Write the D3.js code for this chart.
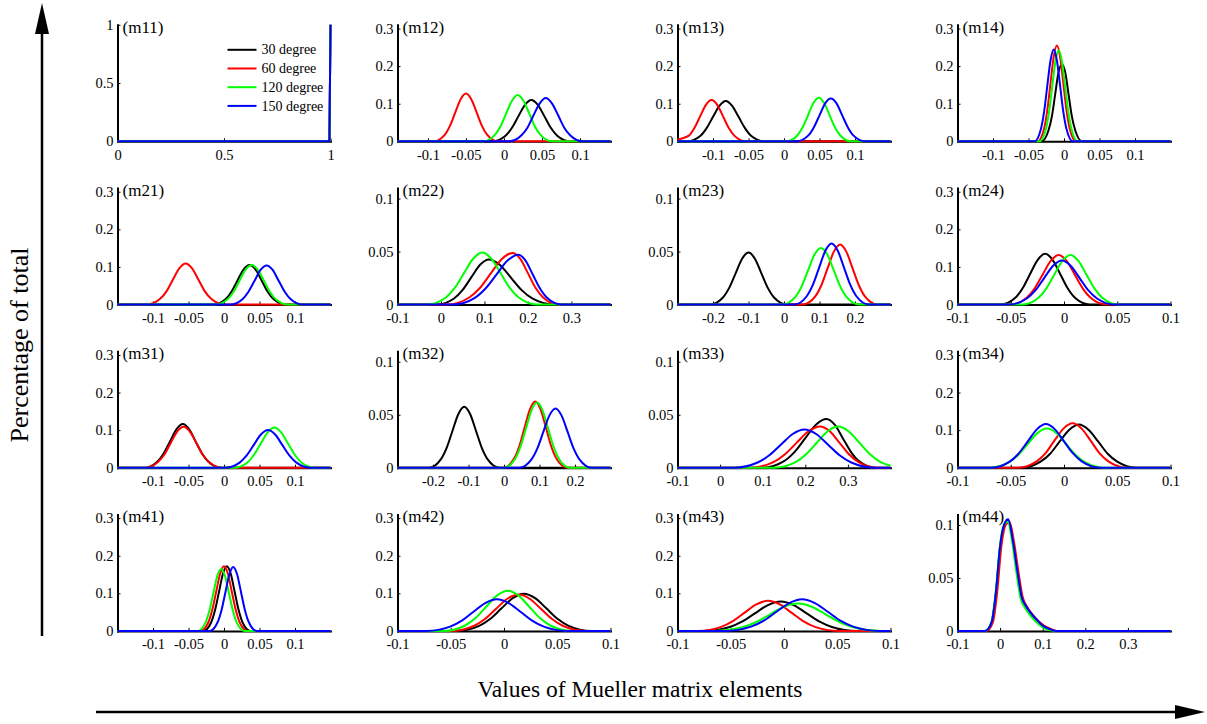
<!DOCTYPE html>
<html>
<head>
<meta charset="utf-8">
<script src="https://cdn.jsdelivr.net/npm/d3@7"></script>
<style>
  body { margin: 0; background: #fff; }
  svg { display: block; }
  text { font-family: "Liberation Serif", "Times New Roman", serif; fill: #000; }
</style>
</head>
<body>
<svg id="chart" width="1207" height="724"></svg>
<script>
// ---- series (scattering angles) ----
const seriesNames = ["30 degree", "60 degree", "120 degree", "150 degree"];
const seriesColors = ["#000000", "#ff0000", "#00ff00", "#0000ff"];

// ---- panels, row by row ----
const panelNames = ["m11", "m12", "m13", "m14",
                    "m21", "m22", "m23", "m24",
                    "m31", "m32", "m33", "m34",
                    "m41", "m42", "m43", "m44"];

const xDomains = [
  [0, 1], [-0.14, 0.14], [-0.15, 0.15], [-0.15, 0.15],
  [-0.15, 0.15], [-0.1, 0.39], [-0.3, 0.3], [-0.1, 0.1],
  [-0.15, 0.15], [-0.3, 0.3], [-0.1, 0.4], [-0.1, 0.1],
  [-0.15, 0.15], [-0.1, 0.1], [-0.1, 0.1], [-0.1, 0.4]
];
const yDomains = [
  [0, 1], [0, 0.31], [0, 0.31], [0, 0.31],
  [0, 0.31], [0, 0.11], [0, 0.11], [0, 0.31],
  [0, 0.31], [0, 0.11], [0, 0.11], [0, 0.31],
  [0, 0.31], [0, 0.31], [0, 0.31], [0, 0.11]
];

const ticksSmall = [-0.1, -0.05, 0, 0.05, 0.1];
const ticksWide = [-0.1, 0, 0.1, 0.2, 0.3];
const ticksSym = [-0.2, -0.1, 0, 0.1, 0.2];
const ticksTenth = [-0.1, -0.05, 0, 0.05, 0.1];
const xTicks = [
  [0, 0.5, 1], ticksSmall, ticksSmall, ticksSmall,
  ticksSmall, ticksWide, ticksSym, ticksTenth,
  ticksSmall, ticksSym, ticksWide, ticksTenth,
  ticksSmall, ticksTenth, ticksTenth, ticksWide
];
const yTicksUnit = [0, 0.5, 1];
const yTicksPct = [0, 0.1, 0.2, 0.3];
const yTicksFine = [0, 0.05, 0.1];
const yTicks = [
  yTicksUnit, yTicksPct, yTicksPct, yTicksPct,
  yTicksPct, yTicksFine, yTicksFine, yTicksPct,
  yTicksPct, yTicksFine, yTicksFine, yTicksPct,
  yTicksPct, yTicksPct, yTicksPct, yTicksFine
];

// ---- distributions: [value, fraction] per series (30, 60, 120, 150 degree) ----
const m11Curves = [
  [[0, 0], [0.995, 0], [1, 1]],
  [[0, 0], [0.995, 0], [1, 1]],
  [[0, 0], [0.995, 0], [1, 1]],
  [[0, 0], [0.995, 0], [1, 1]]
];
const m12Curves = [
  [[-.015,0],[.002,.015],[.0105,.036],[.019,.067],[.0275,.097],[.036,.110],[.0445,.097],[.053,.067],[.0615,.036],[.070,.015],[.087,0]],
  [[-.092,0],[-.078,.017],[-.071,.041],[-.064,.077],[-.057,.112],[-.050,.127],[-.043,.112],[-.036,.077],[-.029,.041],[-.022,.017],[-.008,0]],
  [[-.027,0],[-.012,.017],[-.0045,.040],[.003,.075],[.0105,.108],[.018,.123],[.0255,.108],[.033,.075],[.0405,.040],[.048,.017],[.063,0]],
  [[.007,0],[.023,.016],[.031,.037],[.039,.070],[.047,.101],[.055,.115],[.063,.101],[.071,.070],[.079,.037],[.087,.016],[.103,0]]
];
const m13Curves = [
  [[-.136,0],[-.118,.014],[-.109,.035],[-.100,.065],[-.091,.094],[-.082,.107],[-.073,.094],[-.064,.065],[-.055,.035],[-.046,.014],[-.028,0]],
  [[-.150,.005],[-.134,.015],[-.126,.036],[-.118,.067],[-.110,.097],[-.102,.110],[-.094,.097],[-.086,.067],[-.078,.036],[-.070,.015],[-.054,0]],
  [[.004,0],[.019,.016],[.0265,.038],[.034,.070],[.0415,.102],[.049,.116],[.0565,.102],[.064,.070],[.0715,.038],[.079,.016],[.094,0]],
  [[.018,0],[.034,.015],[.042,.037],[.050,.069],[.058,.101],[.066,.114],[.074,.101],[.082,.069],[.090,.037],[.098,.015],[.114,0]]
];
const m14Curves = [
  [[-.0315,0],[-.022,.028],[-.017,.067],[-.0125,.124],[-.008,.181],[-.003,.205],[.002,.181],[.0065,.124],[.011,.067],[.016,.028],[.0255,0]],
  [[-.037,0],[-.028,.034],[-.0235,.083],[-.019,.155],[-.0145,.225],[-.010,.255],[-.0055,.225],[-.001,.155],[.0035,.083],[.008,.034],[.017,0]],
  [[-.0345,0],[-.0255,.033],[-.021,.079],[-.0165,.147],[-.012,.213],[-.0075,.242],[-.003,.213],[.0015,.147],[.006,.079],[.0105,.033],[.0195,0]],
  [[-.0415,0],[-.0325,.033],[-.028,.079],[-.0235,.148],[-.019,.215],[-.0145,.244],[-.010,.215],[-.0055,.148],[-.001,.079],[.0035,.033],[.0125,0]]
];
const m21Curves = [
  [[-.015,0],[.002,.014],[.0105,.034],[.019,.064],[.0275,.093],[.036,.105],[.0445,.093],[.053,.064],[.0615,.034],[.070,.014],[.087,0]],
  [[-.108,0],[-.090,.015],[-.081,.035],[-.072,.066],[-.063,.096],[-.054,.109],[-.045,.096],[-.036,.066],[-.027,.035],[-.018,.015],[0,0]],
  [[-.012,0],[.005,.014],[.0135,.034],[.022,.064],[.0305,.093],[.039,.105],[.0475,.093],[.056,.064],[.0645,.034],[.073,.014],[.090,0]],
  [[.009,0],[.026,.014],[.0345,.034],[.043,.063],[.0515,.092],[.060,.104],[.0685,.092],[.077,.063],[.0855,.034],[.094,.014],[.111,0]]
];
const m22Curves = [
  [[-.01,0],[.03,.0057],[.05,.0138],[.07,.0258],[.09,.0375],[.11,.0425],[.135,.0375],[.16,.0258],[.185,.0138],[.21,.0057],[.26,0]],
  [[.015,0],[.065,.0066],[.09,.0158],[.115,.0296],[.14,.043],[.165,.0487],[.1825,.043],[.20,.0296],[.2175,.0158],[.235,.0066],[.27,0]],
  [[-.031,0],[.011,.0066],[.032,.0159],[.053,.0297],[.074,.0432],[.095,.049],[.116,.0432],[.137,.0297],[.158,.0159],[.179,.0066],[.221,0]],
  [[.028,0],[.078,.0063],[.103,.0153],[.128,.0285],[.153,.0415],[.178,.047],[.1945,.0415],[.211,.0285],[.2275,.0153],[.244,.0063],[.277,0]]
];
const m23Curves = [
  [[-.208,0],[-.172,.0066],[-.154,.0159],[-.136,.0297],[-.118,.0432],[-.100,.049],[-.082,.0432],[-.064,.0297],[-.046,.0159],[-.028,.0066],[.008,0]],
  [[.053,0],[.088,.0076],[.1055,.0184],[.123,.0344],[.1405,.0499],[.158,.0566],[.1755,.0499],[.193,.0344],[.2105,.0184],[.228,.0076],[.263,0]],
  [[-.004,0],[.032,.0072],[.05,.0174],[.068,.0324],[.086,.0471],[.104,.0534],[.122,.0471],[.14,.0324],[.158,.0174],[.176,.0072],[.212,0]],
  [[.029,0],[.064,.0078],[.0815,.0187],[.099,.0349],[.1165,.0507],[.134,.0575],[.1515,.0507],[.169,.0349],[.1865,.0187],[.204,.0078],[.239,0]]
];
const m24Curves = [
  [[-.0597,0],[-.0457,.018],[-.0387,.044],[-.0317,.082],[-.0247,.119],[-.0177,.135],[-.0107,.119],[-.0037,.082],[.0033,.044],[.0103,.018],[.0243,0]],
  [[-.05,0],[-.035,.018],[-.0275,.043],[-.02,.080],[-.0125,.116],[-.005,.132],[.0025,.116],[.01,.080],[.0175,.043],[.025,.018],[.04,0]],
  [[-.039,0],[-.024,.018],[-.0165,.043],[-.009,.080],[-.0015,.116],[.006,.132],[.0135,.116],[.021,.080],[.0285,.043],[.036,.018],[.051,0]],
  [[-.0515,0],[-.035,.016],[-.0267,.038],[-.0185,.071],[-.0102,.103],[-.002,.117],[.0062,.103],[.0145,.071],[.0227,.038],[.031,.016],[.0475,0]]
];
const m31Curves = [
  [[-.112,0],[-.094,.016],[-.085,.038],[-.076,.070],[-.067,.102],[-.058,.116],[-.049,.102],[-.040,.070],[-.031,.038],[-.022,.016],[-.004,0]],
  [[-.111,0],[-.093,.015],[-.084,.035],[-.075,.066],[-.066,.096],[-.057,.109],[-.048,.096],[-.039,.066],[-.030,.035],[-.021,.015],[-.003,0]],
  [[.014,0],[.033,.014],[.0425,.035],[.052,.065],[.0615,.094],[.071,.107],[.0805,.094],[.090,.065],[.0995,.035],[.109,.014],[.128,0]],
  [[.002,0],[.022,.0135],[.032,.0325],[.042,.0607],[.052,.0882],[.062,.100],[.072,.0882],[.082,.0607],[.092,.0325],[.102,.0135],[.122,0]]
];
const m32Curves = [
  [[-.211,0],[-.178,.0078],[-.1615,.0187],[-.145,.0349],[-.1285,.0507],[-.112,.0575],[-.0955,.0507],[-.079,.0349],[-.0625,.0187],[-.046,.0078],[-.013,0]],
  [[-.002,0],[.028,.0084],[.043,.0203],[.058,.0379],[.073,.0551],[.088,.0625],[.103,.0551],[.118,.0379],[.133,.0203],[.148,.0084],[.178,0]],
  [[0,0],[.031,.0083],[.0465,.020],[.062,.0373],[.0775,.0542],[.093,.0615],[.1085,.0542],[.124,.0373],[.1395,.020],[.155,.0083],[.186,0]],
  [[.043,0],[.077,.0076],[.094,.0182],[.111,.034],[.128,.0494],[.145,.056],[.162,.0494],[.179,.034],[.196,.0182],[.213,.0076],[.247,0]]
];
const m33Curves = [
  [[.10,0],[.15,.0062],[.175,.015],[.20,.0279],[.225,.0406],[.25,.046],[.269,.0406],[.288,.0279],[.307,.015],[.326,.0062],[.364,0]],
  [[.07,0],[.125,.0053],[.1525,.0127],[.18,.0237],[.2075,.0344],[.235,.039],[.2575,.0344],[.28,.0237],[.3025,.0127],[.325,.0053],[.37,0]],
  [[.127,0],[.177,.0052],[.202,.0126],[.227,.0236],[.252,.0342],[.277,.0388],[.302,.0342],[.327,.0236],[.352,.0126],[.377,.0052],[.40,.0018]],
  [[.033,0],[.088,.0049],[.1155,.0117],[.143,.0219],[.1705,.0318],[.198,.036],[.2255,.0318],[.253,.0219],[.2805,.0117],[.308,.0049],[.363,0]]
];
const m34Curves = [
  [[-.04,0],[-.022,.016],[-.013,.037],[-.004,.070],[.005,.101],[.014,.115],[.023,.101],[.032,.070],[.041,.037],[.05,.016],[.068,0]],
  [[-.043,0],[-.026,.016],[-.0175,.038],[-.009,.072],[-.0005,.104],[.008,.118],[.0165,.104],[.025,.072],[.0335,.038],[.042,.016],[.059,0]],
  [[-.07,0],[-.052,.014],[-.043,.034],[-.034,.063],[-.025,.092],[-.016,.104],[-.007,.092],[.002,.063],[.011,.034],[.02,.014],[.038,0]],
  [[-.068,0],[-.051,.016],[-.0425,.038],[-.034,.070],[-.0255,.102],[-.017,.116],[-.0085,.102],[0,.070],[.0085,.038],[.017,.016],[.034,0]]
];
const m41Curves = [
  [[-.029,0],[-.018,.023],[-.0125,.056],[-.007,.104],[-.0015,.152],[.004,.172],[.0095,.152],[.015,.104],[.0205,.056],[.026,.023],[.037,0]],
  [[-.033,0],[-.022,.023],[-.0165,.056],[-.011,.104],[-.0055,.152],[0,.172],[.0055,.152],[.011,.104],[.0165,.056],[.022,.023],[.033,0]],
  [[-.037,0],[-.026,.022],[-.0205,.054],[-.015,.100],[-.0095,.146],[-.004,.165],[.0015,.146],[.007,.100],[.0125,.054],[.018,.022],[.029,0]],
  [[-.02,0],[-.009,.023],[-.0035,.055],[.002,.103],[.0075,.150],[.013,.170],[.0185,.150],[.024,.103],[.0295,.055],[.035,.023],[.046,0]]
];
const m42Curves = [
  [[-.0443,0],[-.0233,.0134],[-.0128,.0322],[-.0023,.0601],[.0082,.0873],[.0187,.099],[.0292,.0873],[.0397,.0601],[.0502,.0322],[.0607,.0134],[.0817,0]],
  [[-.0494,0],[-.0284,.0131],[-.0179,.0315],[-.0074,.0589],[.0031,.0856],[.0136,.097],[.0241,.0856],[.0346,.0589],[.0451,.0315],[.0556,.0131],[.0766,0]],
  [[-.0565,0],[-.0365,.0144],[-.0265,.0348],[-.0165,.065],[-.0065,.0944],[.0035,.107],[.0135,.0944],[.0235,.065],[.0335,.0348],[.0435,.0144],[.0635,0]],
  [[-.0726,0],[-.0506,.0113],[-.0396,.0273],[-.0286,.051],[-.0176,.0741],[-.0066,.084],[.0044,.0741],[.0154,.051],[.0264,.0273],[.0374,.0113],[.0594,0]]
];
const m43Curves = [
  [[-.075,0],[-.051,.0105],[-.039,.0254],[-.027,.0473],[-.015,.0688],[-.003,.078],[.009,.0688],[.021,.0473],[.033,.0254],[.045,.0105],[.069,0]],
  [[-.081,0],[-.059,.0108],[-.048,.026],[-.037,.0486],[-.026,.0706],[-.015,.080],[-.004,.0706],[.007,.0486],[.018,.026],[.029,.0108],[.051,0]],
  [[-.065,0],[-.039,.0099],[-.026,.0237],[-.013,.0443],[0,.0644],[.013,.073],[.026,.0644],[.039,.0443],[.052,.0237],[.065,.0099],[.091,0]],
  [[-.055,0],[-.031,.0113],[-.019,.0273],[-.007,.051],[.005,.0741],[.017,.084],[.029,.0741],[.041,.051],[.053,.0273],[.065,.0113],[.089,0]]
];
const m44Curves = [
  [[-.035,0],[-.02,.008],[-.01,.035],[0,.079],[.01,.100],[.019,.104],[.03,.084],[.04,.057],[.05,.033],[.06,.024],[.07,.018],[.085,.011],[.10,.005],[.115,.002],[.13,0]],
  [[-.032,0],[-.017,.008],[-.007,.036],[.003,.080],[.013,.100],[.022,.103],[.033,.083],[.043,.056],[.053,.032],[.063,.023],[.073,.017],[.088,.010],[.103,.005],[.118,.002],[.133,0]],
  [[-.035,0],[-.02,.009],[-.01,.038],[0,.082],[.009,.100],[.018,.103],[.028,.085],[.038,.056],[.048,.031],[.058,.022],[.068,.016],[.083,.009],[.098,.004],[.113,.001],[.128,0]],
  [[-.035,0],[-.02,.008],[-.01,.036],[0,.080],[.01,.101],[.019,.1055],[.03,.085],[.04,.058],[.05,.033],[.06,.024],[.07,.018],[.085,.011],[.10,.005],[.115,.002],[.13,0]]
];

const panelCurves = [m11Curves, m12Curves, m13Curves, m14Curves,
                     m21Curves, m22Curves, m23Curves, m24Curves,
                     m31Curves, m32Curves, m33Curves, m34Curves,
                     m41Curves, m42Curves, m43Curves, m44Curves];

// ---- layout ----
const svg = d3.select("#chart");
const gridLeft = 117.5, gridStepX = 280, panelW = 213;
const gridBottom = 141.3, gridStepY = 163.2, panelH = 116.5;
const fmt = v => String(v);

const line = (x, y) => d3.line()
  .x(d => x(d[0]))
  .y(d => y(d[1]))
  .curve(d3.curveMonotoneX);

panelNames.forEach((name, i) => {
  const col = i % 4, row = Math.floor(i / 4);
  const left = gridLeft + col * gridStepX;
  const bottom = gridBottom + row * gridStepY;
  const top = bottom - panelH;
  const x = d3.scaleLinear().domain(xDomains[i]).range([left, left + panelW]);
  const y = d3.scaleLinear().domain(yDomains[i]).range([bottom, top]);
  const g = svg.append("g").attr("class", "panel " + name);

  // axes with inward ticks
  const xa = g.append("g")
    .attr("transform", `translate(0,${bottom})`)
    .call(d3.axisBottom(x).tickValues(xTicks[i]).tickFormat(fmt)
      .tickSize(-3).tickSizeOuter(0).tickPadding(8));
  const ya = g.append("g")
    .attr("transform", `translate(${left},0)`)
    .call(d3.axisLeft(y).tickValues(yTicks[i]).tickFormat(fmt)
      .tickSize(-3).tickSizeOuter(0).tickPadding(4));
  [xa, ya].forEach(a => {
    a.attr("font-family", null).attr("font-size", null);
    a.select(".domain").attr("stroke", "#000").attr("stroke-width", 2)
      .attr("stroke-linecap", "square");
    a.selectAll(".tick line").attr("stroke", "#000").attr("stroke-width", 1);
    a.selectAll(".tick text").attr("font-size", 14.5).attr("fill", "#000");
  });

  // clip to the plotting box
  const clipId = "clip-" + name;
  g.append("clipPath").attr("id", clipId)
    .append("rect")
    .attr("x", left - 1).attr("y", top - 6)
    .attr("width", panelW + 3).attr("height", panelH + 8);

  const xmin = xDomains[i][0], xmax = xDomains[i][1];
  const plot = g.append("g").attr("clip-path", `url(#${clipId})`);
  panelCurves[i].forEach((pts, s) => {
    // each distribution lies on zero outside the listed points
    const full = pts.slice();
    if (full[0][0] > xmin) full.unshift([xmin, 0]);
    if (full[full.length - 1][0] < xmax) full.push([xmax, 0]);
    plot.append("path")
      .attr("d", line(x, y)(full))
      .attr("fill", "none")
      .attr("stroke", seriesColors[s])
      .attr("stroke-width", 2)
      .attr("stroke-linejoin", "round");
  });

  // panel label
  g.append("text")
    .attr("x", left + 5)
    .attr("y", top + 8)
    .attr("font-size", 17)
    .text("(" + name + ")");

  // legend inside the first panel
  if (i === 0) {
    const lg = g.append("g");
    seriesNames.forEach((label, s) => {
      const ly = top + 25 + s * 18.7;
      lg.append("line")
        .attr("x1", left + 110).attr("x2", left + 139)
        .attr("y1", ly).attr("y2", ly)
        .attr("stroke", seriesColors[s]).attr("stroke-width", 2);
      lg.append("text")
        .attr("x", left + 144).attr("y", ly)
        .attr("dy", "0.33em")
        .attr("font-size", 14)
        .text(label);
    });
  }
});

// ---- shared axis titles and arrows ----
svg.append("text")
  .attr("transform", "translate(28,345) rotate(-90)")
  .attr("text-anchor", "middle")
  .attr("font-size", 26)
  .text("Percentage of total");

svg.append("text")
  .attr("x", 640).attr("y", 697)
  .attr("text-anchor", "middle")
  .attr("font-size", 23.5)
  .text("Values of Mueller matrix elements");

// vertical arrow
svg.append("line")
  .attr("x1", 42).attr("x2", 42).attr("y1", 636).attr("y2", 30)
  .attr("stroke", "#000").attr("stroke-width", 2.5);
svg.append("path")
  .attr("d", "M42,3 L49,34 L35,34 Z")
  .attr("fill", "#000");

// horizontal arrow
svg.append("line")
  .attr("x1", 96).attr("x2", 1180).attr("y1", 712).attr("y2", 712)
  .attr("stroke", "#000").attr("stroke-width", 2.5);
svg.append("path")
  .attr("d", "M1205,712 L1175,705 L1175,719 Z")
  .attr("fill", "#000");
</script>
</body>
</html>
